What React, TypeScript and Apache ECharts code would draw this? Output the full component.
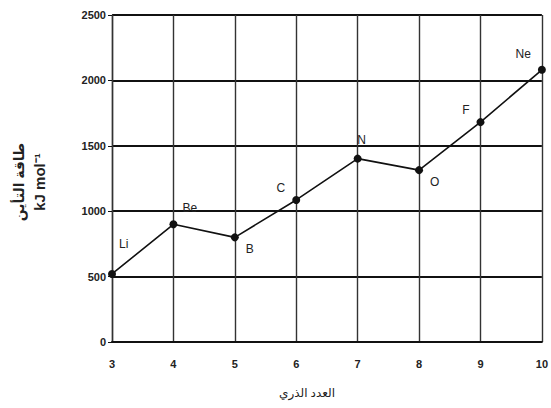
import React, { useEffect, useRef } from "react";
import * as echarts from "echarts";

const atomicNumbers = [3, 4, 5, 6, 7, 8, 9, 10];
const elements = ["Li", "Be", "B", "C", "N", "O", "F", "Ne"];
const ionizationEnergy = [520, 900, 800, 1086, 1402, 1314, 1681, 2081];
const labelPositions = ["right", "right", "right", "left", "top", "right", "left", "left"];
const yTicks = [0, 500, 1000, 1500, 2000, 2500];

export default function App() {
  const ref = useRef<HTMLDivElement>(null);
  useEffect(() => {
    if (!ref.current) return;
    const chart = echarts.init(ref.current, null, { renderer: "svg" });
    const offsets: Record<string, number[]> = {
      Li: [-2, -30],
      Be: [0, -16],
      B: [2, 12],
      C: [-2, -12],
      N: [4, -4],
      O: [2, 12],
      F: [-2, -12],
      Ne: [-2, -16],
    };
    const data = atomicNumbers.map((x, i) => ({
      value: [x, ionizationEnergy[i]],
      label: {
        show: true,
        formatter: elements[i],
        position: labelPositions[i],
        offset: offsets[elements[i]],
      },
    }));
    chart.setOption({
      animation: false,
      backgroundColor: "#fff",
      grid: { left: 112, right: 8, top: 15, bottom: 66 },
      xAxis: {
        type: "value",
        min: 3,
        max: 10,
        interval: 1,
        axisLine: { show: true, onZero: false, lineStyle: { color: "#111", width: 2 } },
        axisTick: { show: false },
        axisLabel: { color: "#222", fontSize: 11, fontWeight: "bold", fontFamily: "Liberation Sans", margin: 16 },
        splitLine: { show: true, lineStyle: { color: "#333", width: 1.4 } },
      },
      yAxis: {
        type: "value",
        min: 0,
        max: 2500,
        interval: 500,
        axisLine: { show: true, lineStyle: { color: "#333", width: 1.4 } },
        axisTick: { show: true, length: 4, lineStyle: { color: "#111" } },
        axisLabel: { color: "#222", fontSize: 11, fontWeight: "bold", fontFamily: "Liberation Sans", margin: 6, formatter: (v: number) => (yTicks.includes(v) ? String(v) : "") },
        splitLine: { show: true, lineStyle: { color: "#111", width: 2 } },
      },
      series: [
        {
          type: "line",
          data,
          symbol: "circle",
          symbolSize: 8,
          itemStyle: { color: "#111" },
          lineStyle: { color: "#111", width: 1.6 },
          label: { color: "#222", fontSize: 12, fontFamily: "Liberation Sans" },
        },
      ],
      graphic: [
        {
          type: "text",
          x: 18,
          y: 182,
          rotation: Math.PI / 2,
          style: {
            text: "طاقة التأين",
            fill: "#222",
            font: "bold 14px 'Noto Sans', 'DejaVu Sans'",
            textAlign: "center",
            textVerticalAlign: "middle",
          },
        },
        {
          type: "text",
          x: 39,
          y: 182,
          rotation: Math.PI / 2,
          style: {
            text: "kJ mol⁻¹",
            fill: "#222",
            font: "bold 15px 'Liberation Sans'",
            textAlign: "center",
            textVerticalAlign: "middle",
          },
        },
        {
          type: "text",
          x: 307,
          y: 392,
          style: {
            text: "العدد الذري",
            fill: "#222",
            font: "12px 'Noto Sans', 'DejaVu Sans'",
            textAlign: "center",
            textVerticalAlign: "middle",
          },
        },
      ],
    });
    return () => chart.dispose();
  }, []);
  return (
    <div
      ref={ref}
      style={{ position: "fixed", left: 0, top: 0, width: 551, height: 408, background: "#fff" }}
    />
  );
}
